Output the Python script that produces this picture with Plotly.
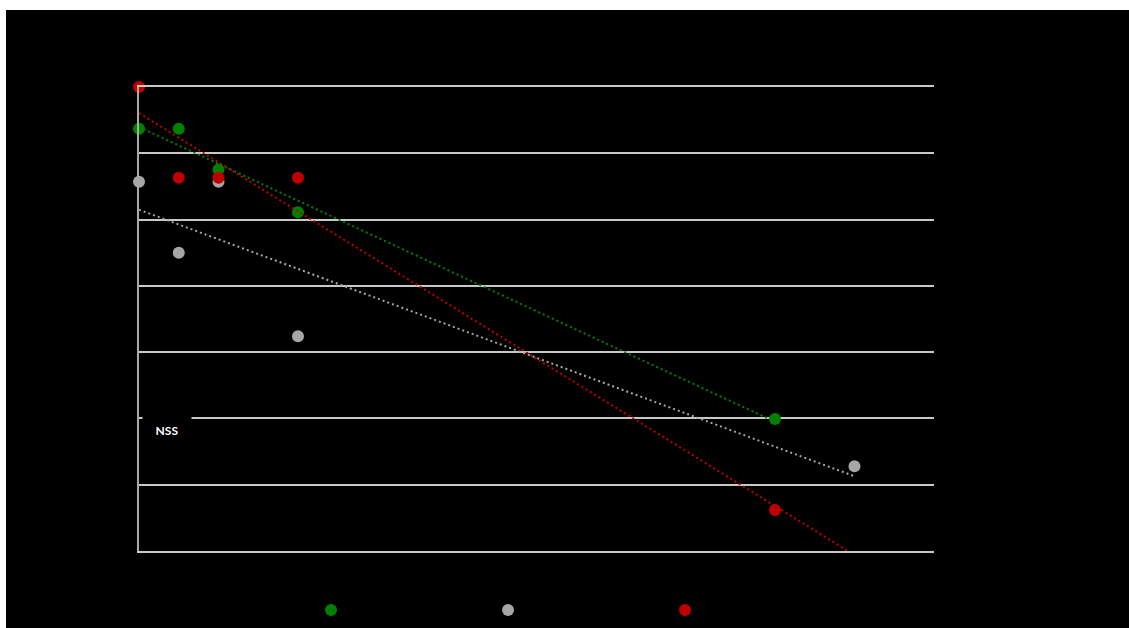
import numpy as np
import plotly.graph_objects as go

# Measurements per group (x = day, y = score)
series_names = ["Series 1", "Series 2", "Series 3"]
series_colors = ["#008000", "#A6A6A6", "#C00000"]
green_x = [0, 1, 2, 4, 16]
green_y = [6.37, 6.37, 5.75, 5.11, 1.99]
gray_x = [0, 1, 2, 4, 18]
gray_y = [5.57, 4.50, 5.57, 3.24, 1.28]
red_x = [0, 1, 2, 4, 16]
red_y = [7.00, 5.63, 5.63, 5.63, 0.62]
trend_end = [16, 18, 18]

series = [(green_x, green_y), (gray_x, gray_y), (red_x, red_y)]

fig = go.Figure()

for name, color, (xs, ys) in zip(series_names, series_colors, series):
    fig.add_trace(go.Scatter(
        x=xs, y=ys, mode="markers", name=name,
        marker=dict(color=color, size=12),
        cliponaxis=False,
    ))

# Linear trendlines
for color, (xs, ys), xe in zip(series_colors, series, trend_end):
    slope, intercept = np.polyfit(xs, ys, 1)
    tx = np.array([min(xs), xe], dtype=float)
    fig.add_trace(go.Scatter(
        x=tx, y=slope * tx + intercept, mode="lines",
        line=dict(color=color, width=2, dash="2px,3px"),
        showlegend=False, hoverinfo="skip",
    ))

fig.add_annotation(
    x=0.07, y=1.83, xref="x", yref="y", xanchor="left", yanchor="middle",
    text="<b>NSS</b>", showarrow=False,
    font=dict(family="Lato", size=12, color="white"),
    bgcolor="black", width=46, height=30,
)

# black chart area
fig.add_shape(
    type="rect", xref="paper", yref="paper",
    x0=-0.1673, x1=1.2453, y0=-0.166, y1=1.166,
    fillcolor="black", line=dict(width=0), layer="below",
)

grid = "#C8C8C8"
fig.update_layout(
    width=1129, height=628,
    margin=dict(l=139, r=195, t=87, b=77),
    paper_bgcolor="white", plot_bgcolor="black",
    font=dict(family="Lato", color="black"),
    showlegend=True,
    legend=dict(
        orientation="h", xref="container", yref="container",
        x=0.2755, xanchor="left", y=0.0287, yanchor="middle",
        entrywidth=132, entrywidthmode="pixels",
        font=dict(color="black", size=12), bgcolor="rgba(0,0,0,0)",
    ),
    xaxis=dict(
        range=[0, 20], showgrid=False, zeroline=False,
        showline=True, linecolor=grid, linewidth=1.5, mirror=True,
        showticklabels=False, ticks="",
    ),
    yaxis=dict(
        range=[0, 7], dtick=1, showgrid=True, gridcolor=grid, gridwidth=1.5,
        zeroline=False, showline=True, linecolor="#A8A8A8", linewidth=1.5,
        showticklabels=False, ticks="",
    ),
)

fig.write_html("out.html")
